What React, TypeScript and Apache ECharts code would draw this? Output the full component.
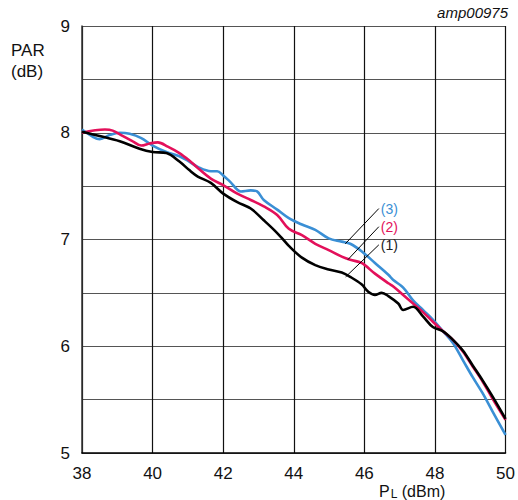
import React, { useEffect, useRef } from 'react';
import * as echarts from 'echarts';

const FONT = 'Liberation Sans, Arial, Helvetica, sans-serif';

const xTicks = [38, 40, 42, 44, 46, 48, 50];
const yTicks = [5, 6, 7, 8, 9];

// curve (1) black
const x1 = [38, 38.5, 39.07, 39.63, 40, 40.39, 40.76, 41.04, 41.28, 41.65, 42, 42.4, 42.78, 43.15, 43.44, 43.67, 43.86, 44.23, 44.61, 44.99, 45.36, 45.6, 45.92, 46.11, 46.3, 46.49, 46.68, 46.96, 47.1, 47.38, 47.66, 47.94, 48.23, 48.51, 48.79, 49.07, 49.35, 49.63, 50];
const y1 = [8.01, 7.97, 7.92, 7.85, 7.82, 7.81, 7.73, 7.65, 7.59, 7.53, 7.43, 7.35, 7.29, 7.18, 7.09, 7.01, 6.94, 6.83, 6.76, 6.72, 6.69, 6.65, 6.58, 6.51, 6.48, 6.5, 6.47, 6.4, 6.34, 6.37, 6.28, 6.18, 6.14, 6.06, 5.96, 5.82, 5.68, 5.53, 5.32];

// curve (2) red
const x2 = [38, 38.65, 38.87, 39.15, 39.44, 39.68, 39.92, 40.15, 40.43, 40.76, 41.04, 41.28, 41.65, 42, 42.4, 42.78, 43.15, 43.53, 43.86, 44.23, 44.61, 44.99, 45.36, 45.6, 45.92, 46.3, 46.68, 46.82, 47.1, 47.38, 47.66, 47.94, 48.23, 48.51, 48.79, 49.07, 49.35, 49.63, 50];
const y2 = [8.0, 8.03, 8.02, 7.97, 7.92, 7.88, 7.9, 7.91, 7.87, 7.81, 7.74, 7.67, 7.57, 7.51, 7.43, 7.37, 7.31, 7.23, 7.1, 7.04, 6.96, 6.9, 6.84, 6.81, 6.78, 6.68, 6.59, 6.56, 6.48, 6.4, 6.32, 6.23, 6.14, 6.06, 5.95, 5.81, 5.67, 5.51, 5.31];

// curve (3) blue
const x3 = [38, 38.32, 38.5, 38.79, 39.07, 39.35, 39.68, 40, 40.39, 40.76, 41.04, 41.28, 41.65, 41.83, 42, 42.2, 42.5, 42.78, 42.96, 43.15, 43.53, 43.86, 44.23, 44.61, 44.99, 45.36, 45.6, 45.92, 46.3, 46.68, 46.82, 47.1, 47.38, 47.66, 47.94, 48.23, 48.51, 48.79, 49.07, 49.35, 49.63, 50];
const y3 = [8.03, 7.96, 7.94, 7.98, 8.0, 7.99, 7.95, 7.88, 7.82, 7.78, 7.73, 7.68, 7.64, 7.64, 7.6, 7.54, 7.45, 7.46, 7.45, 7.37, 7.28, 7.2, 7.14, 7.09, 7.01, 6.98, 6.96, 6.89, 6.78, 6.67, 6.62, 6.55, 6.43, 6.34, 6.25, 6.14, 6.03, 5.87, 5.71, 5.56, 5.39, 5.17];

const labels = ['(1)', '(2)', '(3)'];
const colors = ['#000000', '#e3105a', '#3a8fd5'];
// leader lines: [fromX, fromY, toX, toY]
const leaders = [
  [45.47, 6.65, 46.41, 6.95],
  [45.53, 6.81, 46.41, 7.12],
  [45.46, 6.96, 46.41, 7.29],
];

const zip = (xs: number[], ys: number[]) => xs.map((x, i) => [x, ys[i]]);

export default function App() {
  const ref = useRef<HTMLDivElement>(null);
  useEffect(() => {
    if (!ref.current) return;
    const chart = echarts.init(ref.current, null, { renderer: 'svg' });
    const datasets = [zip(x1, y1), zip(x2, y2), zip(x3, y3)];
    const series: any[] = datasets.map((d, i) => ({
      type: 'line',
      name: labels[i],
      data: d,
      smooth: 0.35,
      showSymbol: false,
      symbol: 'none',
      z: 3 + (2 - i),
      lineStyle: { color: colors[i], width: 2.6 },
      markLine: {
        silent: true,
        symbol: ['none', 'none'],
        label: { show: false },
        lineStyle: { color: '#000', width: 1, type: 'solid' },
        data: [[
          { coord: [leaders[i][0], leaders[i][1]] },
          { coord: [leaders[i][2], leaders[i][3]] },
        ]],
      },
      markPoint: {
        silent: true,
        symbol: 'circle',
        symbolSize: 0,
        itemStyle: { color: 'transparent' },
        label: {
          show: true,
          position: 'right',
          distance: 2,
          formatter: labels[i],
          color: colors[i] === '#000000' ? '#222' : colors[i],
          fontFamily: FONT,
          fontSize: 14,
        },
        data: [{ coord: [leaders[i][2], leaders[i][3]] }],
      },
    }));
    chart.setOption({
      animation: false,
      backgroundColor: '#fff',
      grid: { left: 82, right: 10, top: 26, bottom: 47 },
      xAxis: {
        type: 'value',
        min: xTicks[0],
        max: xTicks[xTicks.length - 1],
        interval: 2,
        axisLine: { show: true, onZero: false, lineStyle: { color: '#000', width: 1.5 } },
        axisTick: { show: false },
        axisLabel: { color: '#111', fontSize: 17, fontFamily: FONT, margin: 12 },
        splitLine: { show: true, lineStyle: { color: '#111', width: 1.2 } },
      },
      yAxis: {
        type: 'value',
        min: yTicks[0],
        max: yTicks[yTicks.length - 1],
        interval: 0.5,
        axisLine: { show: true, onZero: false, lineStyle: { color: '#333', width: 1.5 } },
        axisTick: { show: false },
        axisLabel: {
          color: '#111',
          fontSize: 17,
          fontFamily: FONT,
          margin: 12,
          formatter: (v: number) => (yTicks.includes(v) ? String(v) : ''),
        },
        splitLine: { show: true, lineStyle: { color: '#555', width: 1.2 } },
      },
      graphic: [
        {
          type: 'text',
          left: 11,
          top: 40,
          style: { text: 'PAR\n(dB)', fontSize: 17, fontFamily: FONT, fill: '#111', lineHeight: 21, textAlign: 'left' },
        },
        {
          type: 'text',
          right: 10,
          top: 5,
          style: { text: 'amp00975', fontSize: 15, fontStyle: 'italic', fontFamily: FONT, fill: '#111' },
        },
        {
          type: 'text',
          left: 379,
          top: 483,
          style: {
            text: '{a|P}{s|L}{a| (dBm)}',
            rich: {
              a: { fontSize: 16, fontFamily: FONT, fill: '#111', lineHeight: 16 },
              s: { fontSize: 12, fontFamily: FONT, fill: '#111', lineHeight: 12, padding: [5, 0, 0, 1] },
            },
          },
        },
      ],
      series,
    });
    return () => chart.dispose();
  }, []);
  return <div ref={ref} style={{ position: 'fixed', left: 0, top: 0, width: 518, height: 500 }} />;
}
